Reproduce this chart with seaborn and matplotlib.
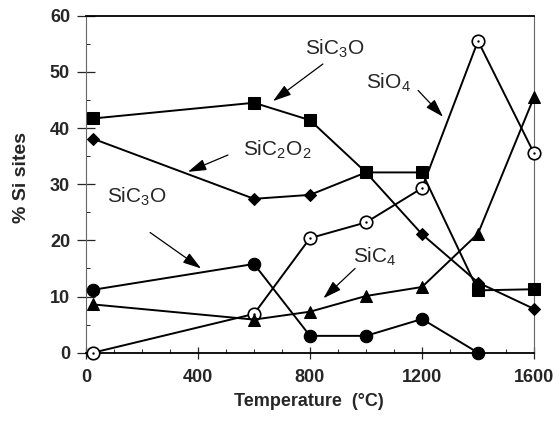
import matplotlib
matplotlib.use("Agg")
import matplotlib.pyplot as plt
from matplotlib.ticker import MultipleLocator
import seaborn as sns
import pandas as pd

sns.set_style("white")
plt.rcParams["font.family"] = ["Liberation Sans", "DejaVu Sans"]
plt.rcParams["mathtext.fontset"] = "custom"
plt.rcParams["mathtext.rm"] = "Liberation Sans"

# Temperatures (°C) and percentage of each Si site
temperature = [25, 600, 800, 1000, 1200, 1400, 1600]
sic3o_upper = [41.7, 44.5, 41.4, 32.1, 32.1, 11.1, 11.3]
sic2o2 = [38.1, 27.4, 28.1, 32.1, 21.1, 12.5, 7.8]
sic3o_lower = [11.2, 15.8, 3.0, 3.0, 6.0, 0.0, None]
sio4 = [0.0, 6.9, 20.4, 23.2, 29.3, 55.5, 35.5]
sic4 = [8.6, 5.9, 7.3, 10.1, 11.7, 21.2, 45.5]

fig = plt.figure(figsize=(5.59, 4.21), dpi=100)
ax = fig.add_axes([0.1538, 0.1622, 0.8015, 0.8005])

def draw(values, **kw):
    df = pd.DataFrame({"T": temperature, "pct": values}).dropna()
    sns.lineplot(data=df, x="T", y="pct", ax=ax, color="black", lw=1.4,
                 sort=False, estimator=None, clip_on=False,
                 markeredgecolor="black", zorder=3, **kw)

draw(sic3o_upper, marker="s", markersize=9)
draw(sic2o2, marker="D", markersize=6)
draw(sic3o_lower, marker="o", markersize=9)
draw(sio4, marker="o", markersize=9, markerfacecolor="white",
     markeredgewidth=1.2)
draw(sic4, marker="^", markersize=8.5)
# centre dot of the open circles
sns.scatterplot(x=temperature, y=sio4, ax=ax, color="black", s=3,
                linewidth=0, zorder=4, clip_on=False)

ax.set_xlim(0, 1600)
ax.set_ylim(0, 60)
ax.xaxis.set_major_locator(MultipleLocator(400))
ax.xaxis.set_minor_locator(MultipleLocator(100))
ax.yaxis.set_major_locator(MultipleLocator(10))
ax.yaxis.set_minor_locator(MultipleLocator(5))
ax.tick_params(axis="y", which="major", direction="inout", length=13,
               width=0.9, labelsize=13, pad=5)
ax.tick_params(axis="x", which="major", direction="inout", length=8,
               width=0.9, labelsize=13, pad=8)
ax.tick_params(which="minor", direction="in", length=3, width=0.7,
               bottom=True, left=True)
ax.tick_params(bottom=True, left=True)
for lab in ax.get_xticklabels() + ax.get_yticklabels():
    lab.set_fontweight("bold")

for side in ("top", "bottom"):
    ax.spines[side].set_color("black")
    ax.spines[side].set_linewidth(1.3)
for side in ("left", "right"):
    ax.spines[side].set_color("#666666")
    ax.spines[side].set_linewidth(0.8)

ax.set_xlabel("Temperature  (°C)", fontsize=13, fontweight="bold")
ax.set_ylabel("% Si sites", fontsize=14, fontweight="bold")
ax.xaxis.set_label_coords(0.497, -0.12)
ax.yaxis.set_label_coords(-0.125, 0.52)

arrow = dict(arrowstyle="-|>,head_length=0.8,head_width=0.25",
             color="black", lw=0.9, mutation_scale=14,
             shrinkA=0, shrinkB=0)
labels = [
    (r"SiC$_3$O", (668, 44.8), (846, 51.4), (782, 54.2)),
    (r"SiO$_4$", (1275, 42.0), (1186, 46.7), (1000, 48.0)),
    (r"SiC$_2$O$_2$", (364, 32.2), (507, 35.2), (561, 36.1)),
    (r"SiC$_3$O", (411, 15.0), (229, 21.4), (75, 27.7)),
    (r"SiC$_4$", (848, 9.7), (961, 15.0), (954, 17.1)),
]
for text, head, tail, pos in labels:
    ax.annotate("", xy=head, xytext=tail, arrowprops=arrow)
    ax.text(pos[0], pos[1], text, fontsize=15, ha="left", va="center")

fig.savefig("out.png", dpi=100)
